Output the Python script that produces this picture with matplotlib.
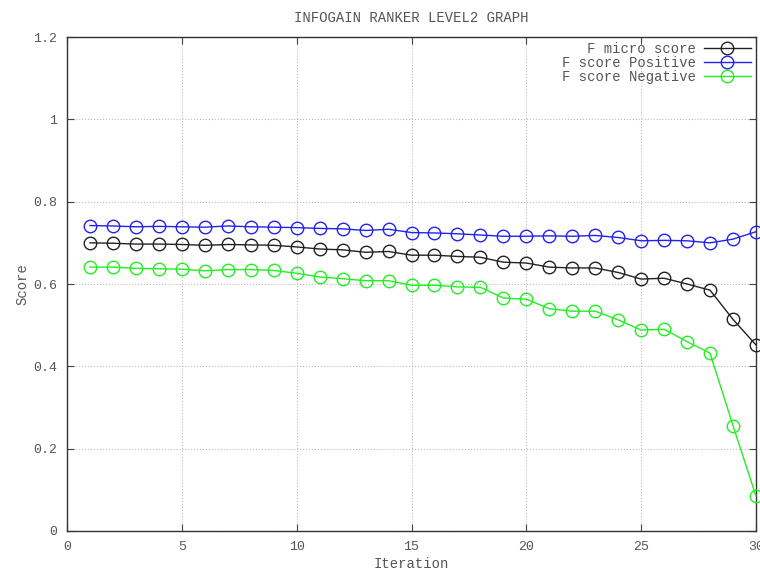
import matplotlib
matplotlib.use("Agg")
import matplotlib.pyplot as plt
import numpy as np

iteration = list(range(1, 31))
f_micro = [0.700, 0.699, 0.697, 0.697, 0.696, 0.694, 0.696, 0.695, 0.694, 0.690,
           0.685, 0.683, 0.677, 0.679, 0.670, 0.670, 0.667, 0.665, 0.653, 0.651,
           0.641, 0.639, 0.639, 0.628, 0.612, 0.614, 0.600, 0.585, 0.514, 0.452]
f_pos = [0.742, 0.741, 0.739, 0.740, 0.739, 0.738, 0.741, 0.739, 0.738, 0.737,
         0.735, 0.734, 0.730, 0.733, 0.725, 0.724, 0.722, 0.719, 0.716, 0.716,
         0.717, 0.716, 0.718, 0.713, 0.705, 0.706, 0.705, 0.700, 0.709, 0.727]
f_neg = [0.641, 0.641, 0.638, 0.637, 0.636, 0.632, 0.635, 0.635, 0.633, 0.626,
         0.617, 0.613, 0.608, 0.608, 0.597, 0.597, 0.593, 0.592, 0.566, 0.563,
         0.540, 0.534, 0.534, 0.513, 0.488, 0.490, 0.460, 0.432, 0.256, 0.085]

FONT = "Liberation Mono"
TXT = "#555555"

fig = plt.figure(figsize=(7.6, 5.73), dpi=100)
ax = fig.add_axes([0.0882, 0.0733, 0.9065, 0.8621])

series = [("F micro score", f_micro, "#222222"),
          ("F score Positive", f_pos, "#2222ee"),
          ("F score Negative", f_neg, "#22ee22")]
for lab, ys, col in series:
    ax.plot(iteration, ys, color=col, lw=1.0, marker="o", ms=9, mfc="none",
            mec=col, mew=1.0, label=lab, clip_on=False, zorder=3)

ax.set_xlim(0, 30)
ax.set_ylim(0, 1.2)
ax.set_xticks(np.arange(0, 31, 5))
ax.set_yticks([0, 0.2, 0.4, 0.6, 0.8, 1, 1.2])
ax.set_yticklabels(["0", "0.2", "0.4", "0.6", "0.8", "1", "1.2"])
ax.grid(True, color="#bbbbbb", ls=":", lw=0.8)
ax.tick_params(direction="in", top=True, right=True, length=5, colors="#444444",
               labelcolor=TXT, labelsize=9.5, pad=7)
for lbl in ax.get_xticklabels() + ax.get_yticklabels():
    lbl.set_fontfamily(FONT)
for s in ax.spines.values():
    s.set_color("#333333")
    s.set_linewidth(1.0)

ax.set_xlabel("Iteration", fontfamily=FONT, color=TXT, fontsize=10, labelpad=3)
ax.set_ylabel("Score", fontfamily=FONT, color=TXT, fontsize=10, labelpad=3)
ax.set_title("INFOGAIN RANKER LEVEL2 GRAPH", fontfamily=FONT, color=TXT,
             fontsize=10, pad=11)

leg = ax.legend(loc="upper right", frameon=False, markerfirst=False,
                prop={"family": FONT, "size": 10}, handlelength=3.4,
                handletextpad=0.6, labelspacing=0.0, borderaxespad=0.25,
                borderpad=0.1)
for t in leg.get_texts():
    t.set_color(TXT)

fig.savefig("out.png", dpi=100)
